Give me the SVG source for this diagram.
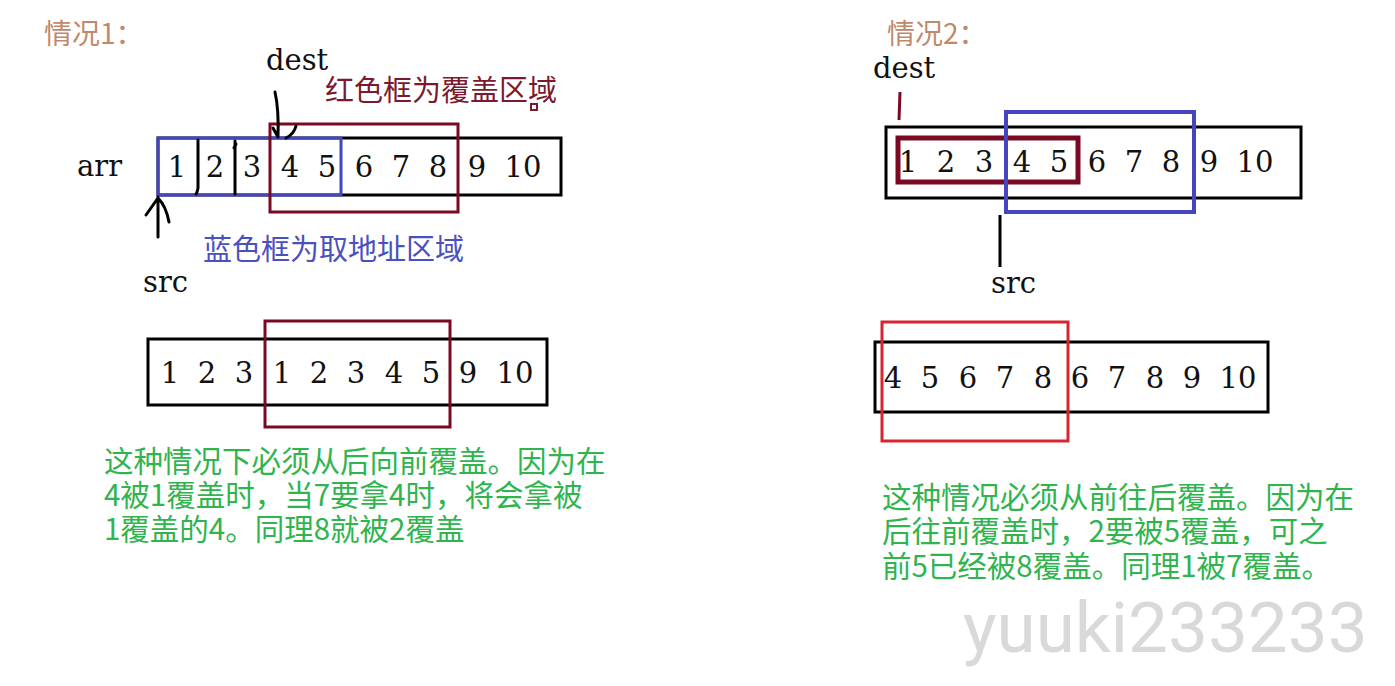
<svg xmlns="http://www.w3.org/2000/svg" width="1395" height="686" viewBox="0 0 1395 686">
<style>
.serif{font-family:"DejaVu Serif","Liberation Serif",serif;font-size:29px;fill:#111}
.num{font-family:"DejaVu Serif","Liberation Serif",serif;font-size:29px;fill:#111;text-anchor:middle}
.cjk{font-family:"Noto Sans CJK SC",sans-serif;font-size:29px}
.title{font-family:"Noto Sans CJK SC",sans-serif;font-size:28px;fill:#C0896B}
.green{fill:#2FB44E;font-size:29.5px}
.box{fill:none;stroke:#000;stroke-width:3}
.blue{fill:none;stroke:#4545BD;stroke-width:3}
.dred{fill:none;stroke:#7A0A22;stroke-width:3}
.ink{fill:none;stroke:#000;stroke-width:3;stroke-linecap:round}
</style>
<rect width="1395" height="686" fill="#fff"/>
<g id="case1">
<text class="title" x="44" y="44">情况1：</text>
<text class="serif" x="266" y="70">dest</text>
<text class="cjk" x="325" y="101" fill="#7B1A2E">红色框为覆盖区域</text>
<rect x="531" y="104" width="6" height="6" fill="none" stroke="#7B1A2E" stroke-width="2"/>
<text class="serif" x="77" y="176">arr</text>
<rect class="box" x="158" y="138" width="403" height="57"/>
<rect class="blue" x="158" y="138" width="183" height="57"/>
<rect class="dred" x="270" y="124" width="188" height="88"/>
<path class="ink" d="M198 140 L198 188 Q197 193 196 194"/>
<path class="ink" d="M236 144 L234 148 M235 141 L235 194"/>
<path class="ink" d="M275 92 Q279 110 278 137 M273 128 L278 137 M296 126 Q294 134 286 138"/>
<path class="ink" d="M158 197 L158 237 M146 215 L158 198 Q166 206 169 222"/>
<g class="num">
<text x="177" y="177">1</text><text x="215" y="177">2</text><text x="252" y="177">3</text><text x="290" y="177">4</text><text x="327" y="177">5</text><text x="364" y="177">6</text><text x="401" y="177">7</text><text x="438" y="177">8</text><text x="477" y="177">9</text><text x="523" y="177">10</text>
</g>
<text class="cjk" x="203" y="260" fill="#4B50C0">蓝色框为取地址区域</text>
<text class="serif" x="143" y="292">src</text>
<rect class="box" x="148" y="339" width="399" height="66"/>
<rect class="dred" x="265" y="321" width="185" height="106"/>
<g class="num">
<text x="170" y="383">1</text><text x="207" y="383">2</text><text x="244" y="383">3</text><text x="282" y="383">1</text><text x="319" y="383">2</text><text x="356" y="383">3</text><text x="394" y="383">4</text><text x="431" y="383">5</text><text x="468" y="383">9</text><text x="515" y="383">10</text>
</g>
<g class="cjk green">
<text x="104" y="472">这种情况下必须从后向前覆盖。因为在</text>
<text x="104" y="506">4被1覆盖时，当7要拿4时，将会拿被</text>
<text x="104" y="540">1覆盖的4。同理8就被2覆盖</text>
</g>
</g>
<g id="case2">
<text class="title" x="887" y="44">情况2：</text>
<text class="serif" x="873" y="78">dest</text>
<line x1="900" y1="92" x2="899" y2="120" stroke="#7A0A22" stroke-width="3"/>
<rect class="box" x="886" y="127" width="415" height="71"/>
<rect x="898" y="138" width="180" height="44" fill="none" stroke="#7A0A22" stroke-width="5"/>
<rect x="1006" y="112" width="188" height="100" fill="none" stroke="#4545BD" stroke-width="4"/>
<g class="num">
<text x="908" y="172">1</text><text x="946" y="172">2</text><text x="984" y="172">3</text><text x="1022" y="172">4</text><text x="1059" y="172">5</text><text x="1097" y="172">6</text><text x="1134" y="172">7</text><text x="1171" y="172">8</text><text x="1209" y="172">9</text><text x="1255" y="172">10</text>
</g>
<line x1="1000" y1="215" x2="1000" y2="267" stroke="#000" stroke-width="3"/>
<text class="serif" x="991" y="293">src</text>
<rect class="box" x="875" y="342" width="393" height="70"/>
<rect x="882" y="322" width="186" height="119" fill="none" stroke="#D82631" stroke-width="3"/>
<g class="num">
<text x="893" y="388">4</text><text x="930" y="388">5</text><text x="968" y="388">6</text><text x="1005" y="388">7</text><text x="1043" y="388">8</text><text x="1080" y="388">6</text><text x="1117" y="388">7</text><text x="1155" y="388">8</text><text x="1192" y="388">9</text><text x="1238" y="388">10</text>
</g>
<g class="cjk green">
<text x="882" y="508">这种情况必须从前往后覆盖。因为在</text>
<text x="882" y="542">后往前覆盖时，2要被5覆盖，可之</text>
<text x="882" y="577">前5已经被8覆盖。同理1被7覆盖。</text>
</g>
</g>
<text x="963" y="652" font-family="Roboto,sans-serif" font-size="71" fill="#D9D9D9">yuuki233233</text>
</svg>
